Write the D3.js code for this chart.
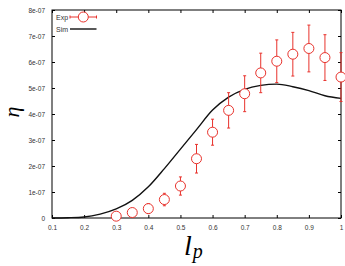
<!DOCTYPE html>
<html>
<head>
<meta charset="utf-8">
<script src="https://cdn.jsdelivr.net/npm/d3@7"></script>
<style>
  body { margin: 0; background: #fff; }
  svg text { font-family: "Liberation Sans", Arial, sans-serif; }
</style>
</head>
<body>
<div id="chart"></div>
<script>
"use strict";

// experimental points
const expX = [0.3, 0.35, 0.4, 0.45, 0.5, 0.55, 0.6, 0.65, 0.7, 0.75, 0.8, 0.85, 0.9, 0.95, 1.0];
const expY = [0.7e-8, 2.1e-8, 3.6e-8, 7.1e-8, 12.3e-8, 22.8e-8, 33e-8, 41.4e-8, 47.8e-8, 55.8e-8, 60.3e-8, 63e-8, 65.2e-8, 61.7e-8, 54.2e-8];
const expErr = [0.5e-8, 1.2e-8, 1.9e-8, 2.4e-8, 3.5e-8, 5.5e-8, 5e-8, 6.8e-8, 6.9e-8, 7.6e-8, 8.2e-8, 8.4e-8, 9e-8, 8.8e-8, 9.4e-8];

// simulation curve
const simX = [0.1, 0.15, 0.2, 0.25, 0.3, 0.35, 0.4, 0.45, 0.5, 0.55, 0.6, 0.65, 0.7, 0.75, 0.8, 0.85, 0.9, 0.95, 1.0];
const simY = [0, 0.1e-8, 0.4e-8, 1.5e-8, 3.5e-8, 6.8e-8, 12e-8, 19e-8, 26.5e-8, 34e-8, 41.5e-8, 46.5e-8, 49.5e-8, 51e-8, 51.5e-8, 50.5e-8, 49e-8, 47e-8, 46e-8];

const xTicks = [0.1, 0.2, 0.3, 0.4, 0.5, 0.6, 0.7, 0.8, 0.9, 1];
const xTickLabels = ['0.1', '0.2', '0.3', '0.4', '0.5', '0.6', '0.7', '0.8', '0.9', '1'];
const yTicks = [0, 1e-7, 2e-7, 3e-7, 4e-7, 5e-7, 6e-7, 7e-7, 8e-7];
const yTickLabels = ['0', '1e-07', '2e-07', '3e-07', '4e-07', '5e-07', '6e-07', '7e-07', '8e-07'];

const red = '#e8322c';
const width = 345;
const height = 266;
const margin = { top: 10, right: 4, bottom: 48, left: 52 };
const plotW = width - margin.left - margin.right;
const plotH = height - margin.top - margin.bottom;

function translateStr(x, y) {
  return 'translate(' + x + ', ' + y + ')';
}

let x = d3.scaleLinear().domain([0.1, 1]).range([0, plotW]);
let y = d3.scaleLinear().domain([0, 8e-7]).range([plotH, 0]);

let svg = d3.select('#chart')
  .append('svg')
  .attr('width', width)
  .attr('height', height);

let g = svg.append('g')
  .attr('transform', translateStr(margin.left, margin.top));

function styleAxis(sel, hideText) {
  sel.select('.domain').remove();
  sel.selectAll('.tick line').attr('stroke', '#000');
  sel.selectAll('.tick text')
    .attr('fill', '#333')
    .style('font-size', '6.5px');
  if (hideText) sel.selectAll('.tick text').remove();
}

g.append('g')
  .attr('transform', translateStr(0, plotH))
  .call(d3.axisBottom(x).tickValues(xTicks)
    .tickFormat((d, i) => xTickLabels[i]).tickSizeInner(-3).tickPadding(7))
  .call(s => styleAxis(s, false));

g.append('g')
  .call(d3.axisTop(x).tickValues(xTicks).tickSizeInner(-3))
  .call(s => styleAxis(s, true));

g.append('g')
  .call(d3.axisLeft(y).tickValues(yTicks)
    .tickFormat((d, i) => yTickLabels[i]).tickSizeInner(-3).tickPadding(7))
  .call(s => styleAxis(s, false));

g.append('g')
  .attr('transform', translateStr(plotW, 0))
  .call(d3.axisRight(y).tickValues(yTicks).tickSizeInner(-3))
  .call(s => styleAxis(s, true));

// frame
g.append('rect')
  .attr('width', plotW)
  .attr('height', plotH)
  .attr('fill', 'none')
  .attr('stroke', '#000')
  .attr('stroke-width', 1);

// simulation line
let simData = simX.map((v, i) => ({ x: v, y: simY[i] }));
let line = d3.line()
  .x(d => x(d.x))
  .y(d => y(d.y))
  .curve(d3.curveMonotoneX);

g.append('path')
  .datum(simData)
  .attr('d', line)
  .attr('fill', 'none')
  .attr('stroke', '#111')
  .attr('stroke-width', 1.4);

// experimental points with error bars
let expData = expX.map((v, i) => ({ x: v, y: expY[i], e: expErr[i] }));
let pts = g.append('g').selectAll('g')
  .data(expData)
  .join('g')
  .attr('stroke', red)
  .attr('fill', 'none')
  .attr('stroke-width', 1);

pts.append('line')
  .attr('x1', d => x(d.x)).attr('x2', d => x(d.x))
  .attr('y1', d => y(Math.max(0, d.y - d.e))).attr('y2', d => y(d.y + d.e));
pts.append('line')
  .attr('x1', d => x(d.x) - 1.5).attr('x2', d => x(d.x) + 1.5)
  .attr('y1', d => y(d.y + d.e)).attr('y2', d => y(d.y + d.e));
pts.filter(d => d.y - d.e > 0).append('line')
  .attr('x1', d => x(d.x) - 1.5).attr('x2', d => x(d.x) + 1.5)
  .attr('y1', d => y(d.y - d.e)).attr('y2', d => y(d.y - d.e));
pts.append('circle')
  .attr('cx', d => x(d.x))
  .attr('cy', d => y(d.y))
  .attr('r', 5)
  .attr('fill', '#fff');

// legend
let legend = g.append('g').attr('transform', translateStr(0, 0));
legend.append('text')
  .attr('x', 4).attr('y', 9.5)
  .attr('fill', '#333').style('font-size', '7px')
  .text('Exp');
legend.append('line')
  .attr('x1', 18).attr('x2', 44.5).attr('y1', 7).attr('y2', 7)
  .attr('stroke', red);
legend.selectAll('.cap')
  .data([18, 44.5])
  .join('line')
  .attr('x1', d => d).attr('x2', d => d).attr('y1', 5.5).attr('y2', 8.5)
  .attr('stroke', red);
legend.append('circle')
  .attr('cx', 31.3).attr('cy', 7).attr('r', 5)
  .attr('fill', '#fff').attr('stroke', red);
legend.append('text')
  .attr('x', 4).attr('y', 21.5)
  .attr('fill', '#333').style('font-size', '7px')
  .text('Sim');
legend.append('line')
  .attr('x1', 18).attr('x2', 44.5).attr('y1', 19).attr('y2', 19)
  .attr('stroke', '#111').attr('stroke-width', 1.4);

// axis titles
svg.append('text')
  .attr('transform', translateStr(19, 112) + ' rotate(-90)')
  .attr('text-anchor', 'middle')
  .style('font-family', '"Liberation Serif", "DejaVu Serif", serif')
  .style('font-style', 'italic')
  .style('font-size', '22px')
  .text('η');

let xt = svg.append('text')
  .attr('x', 184).attr('y', 255)
  .style('font-family', '"Liberation Serif", "DejaVu Serif", serif')
  .style('font-style', 'italic')
  .style('font-size', '28px')
  .text('l');
xt.append('tspan')
  .attr('dy', 3)
  .attr('dx', 1)
  .style('font-size', '20px')
  .text('p');
</script>
</body>
</html>
